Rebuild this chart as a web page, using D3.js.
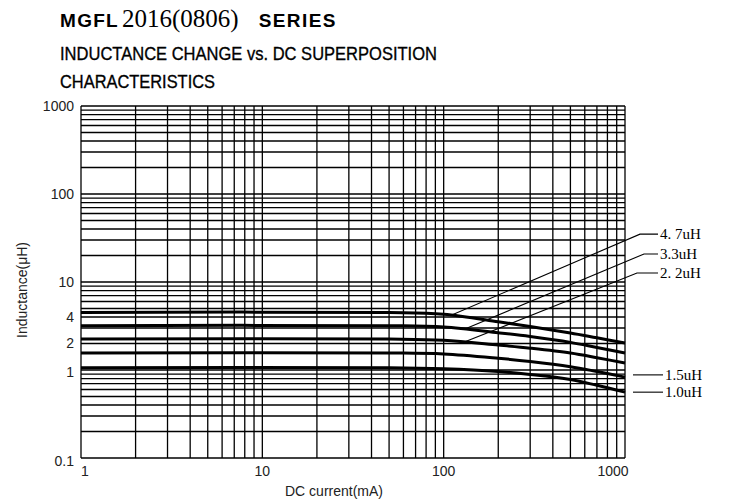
<!DOCTYPE html>
<html>
<head>
<meta charset="utf-8">
<script src="https://cdn.jsdelivr.net/npm/d3@7"></script>
<style>
  body { margin: 0; background: #fff; }
</style>
</head>
<body>
<script>
//=== Data ===
const currents = [1, 50, 100, 200, 300, 500, 700, 1000]   // mA
const L47 = [4.5, 4.5, 4.3, 3.54, 3.12, 2.63, 2.32, 2.03]
const L33 = [3.19, 3.19, 3.08, 2.65, 2.4, 2.06, 1.8, 1.56]
const L22 = [2.25, 2.25, 2.18, 1.92, 1.77, 1.56, 1.38, 1.2]
const L15 = [1.56, 1.56, 1.52, 1.36, 1.25, 1.09, 0.96, 0.83]
const L10 = [1.06, 1.06, 1.03, 0.96, 0.89, 0.78, 0.67, 0.56]
const seriesNames = ["4. 7uH", "3.3uH", "2. 2uH", "1.5uH", "1.0uH"]
const seriesValues = [L47, L33, L22, L15, L10]
const labelAt = [35, 20.8, 12.65, 0.88, 0.56]      // uH level of each label
const leaderFrom = [110, 130, 130, null, null]      // mA where leader leaves curve

const xTicks = [1, 10, 100, 1000]
const yTicks = [1000, 100, 10, 4, 2, 1, 0.1]

//=== Setup ===
const W = 733, H = 501
const sans = "'Liberation Sans', Arial, sans-serif"
const serif = "'Liberation Serif', 'Times New Roman', serif"

const svg = d3.select("body").append("svg")
    .attr("width", W)
    .attr("height", H)
    .style("font-family", sans)

const x = d3.scaleLog().domain([1, 1000]).range([81, 625])
const y = d3.scaleLog().domain([0.1, 1000]).range([458, 106])

// minor grid values 1..9 per decade
function gridVals(lo, hi) {
    const out = []
    for (let p = lo; p < hi; p *= 10)
        for (let k = 1; k < 10; k++) out.push(p * k)
    out.push(hi)
    return out
}

// Title
const title = svg.append("text").attr("x", 60).attr("y", 27)
title.append("tspan").text("MGFL")
    .style("font-family", sans).attr("font-weight", "bold").attr("font-size", 19).attr("letter-spacing", 1.3)
title.append("tspan").text("2016(0806)")
    .style("font-family", serif).attr("font-size", 25).attr("dx", 3)
title.append("tspan").text("SERIES")
    .style("font-family", sans).attr("font-weight", "bold").attr("font-size", 19).attr("letter-spacing", 1.4).attr("dx", 20)

svg.append("text").attr("x", 60).attr("y", 60)
    .attr("font-size", 19).attr("textLength", 377).attr("lengthAdjust", "spacingAndGlyphs")
    .attr("stroke", "#000").attr("stroke-width", 0.35)
    .text("INDUCTANCE CHANGE vs. DC SUPERPOSITION")
svg.append("text").attr("x", 60).attr("y", 88)
    .attr("font-size", 19).attr("textLength", 155).attr("lengthAdjust", "spacingAndGlyphs")
    .attr("stroke", "#000").attr("stroke-width", 0.35)
    .text("CHARACTERISTICS")

// Grid
const grid = svg.append("g").attr("stroke", "#000").attr("stroke-width", 1.3)
grid.selectAll(".vx").data(gridVals(1, 1000)).enter().append("line")
    .attr("x1", d => x(d)).attr("x2", d => x(d))
    .attr("y1", y(1000)).attr("y2", y(0.1))
grid.selectAll(".hy").data(gridVals(0.1, 1000)).enter().append("line")
    .attr("y1", d => y(d)).attr("y2", d => y(d))
    .attr("x1", x(1)).attr("x2", x(1000))

// Tick labels
svg.append("g").selectAll("text").data(xTicks).enter().append("text")
    .attr("x", (d, i) => x(d) + (i == 0 ? 4 : i == xTicks.length - 1 ? -12 : 0))
    .attr("y", 476)
    .attr("text-anchor", "middle")
    .attr("font-size", 14).attr("fill", "#222")
    .text(d => d)

svg.append("g").selectAll("text").data(yTicks).enter().append("text")
    .attr("x", 74)
    .attr("y", d => y(d) + (d == 0.1 ? 3 : d == 1 ? 2 : 0))
    .attr("dy", "0.35em")
    .attr("text-anchor", "end")
    .attr("font-size", 14).attr("fill", "#222")
    .text(d => d)

svg.append("text").attr("x", 334).attr("y", 496)
    .attr("text-anchor", "middle").attr("font-size", 14).attr("fill", "#222")
    .text("DC current(mA)")
svg.append("text")
    .attr("transform", "translate(27,290) rotate(-90)")
    .attr("text-anchor", "middle").attr("font-size", 14).attr("fill", "#222")
    .text("Inductance(μH)")

// Curves
const line = d3.line()
    .x(d => x(d[0]))
    .y(d => y(d[1]))
    .curve(d3.curveCatmullRom.alpha(0.5))

seriesValues.forEach(vals => {
    svg.append("path")
        .datum(currents.map((c, i) => [c, vals[i]]))
        .attr("d", line)
        .attr("fill", "none")
        .attr("stroke", "#000")
        .attr("stroke-width", 3)
})

// value on a curve (log-log interpolation)
function valueAt(vals, c) {
    const i = d3.bisectRight(currents, c) - 1
    const t = (Math.log(c) - Math.log(currents[i])) / (Math.log(currents[i + 1]) - Math.log(currents[i]))
    return Math.exp(Math.log(vals[i]) + t * (Math.log(vals[i + 1]) - Math.log(vals[i])))
}

// Labels and leaders
const elbowDx = [15, 19, 12]
seriesNames.forEach((name, i) => {
    const ly = y(labelAt[i])
    if (leaderFrom[i] != null) {
        const c0 = leaderFrom[i]
        const pts = [
            [x(c0), y(valueAt(seriesValues[i], c0))],
            [x(1000) + elbowDx[i], ly],
            [x(1000) + 33, ly]
        ]
        svg.append("path")
            .attr("d", d3.line()(pts))
            .attr("fill", "none").attr("stroke", "#000").attr("stroke-width", 1.1)
    } else {
        svg.append("line")
            .attr("x1", x(1000) + 8).attr("x2", x(1000) + 38)
            .attr("y1", ly).attr("y2", ly)
            .attr("stroke", "#000").attr("stroke-width", 1.1)
    }
    svg.append("text")
        .attr("x", x(1000) + (leaderFrom[i] != null ? 35 : 40))
        .attr("y", ly).attr("dy", "0.35em")
        .style("font-family", serif)
        .attr("font-size", 15)
        .text(name)
})
</script>
</body>
</html>
